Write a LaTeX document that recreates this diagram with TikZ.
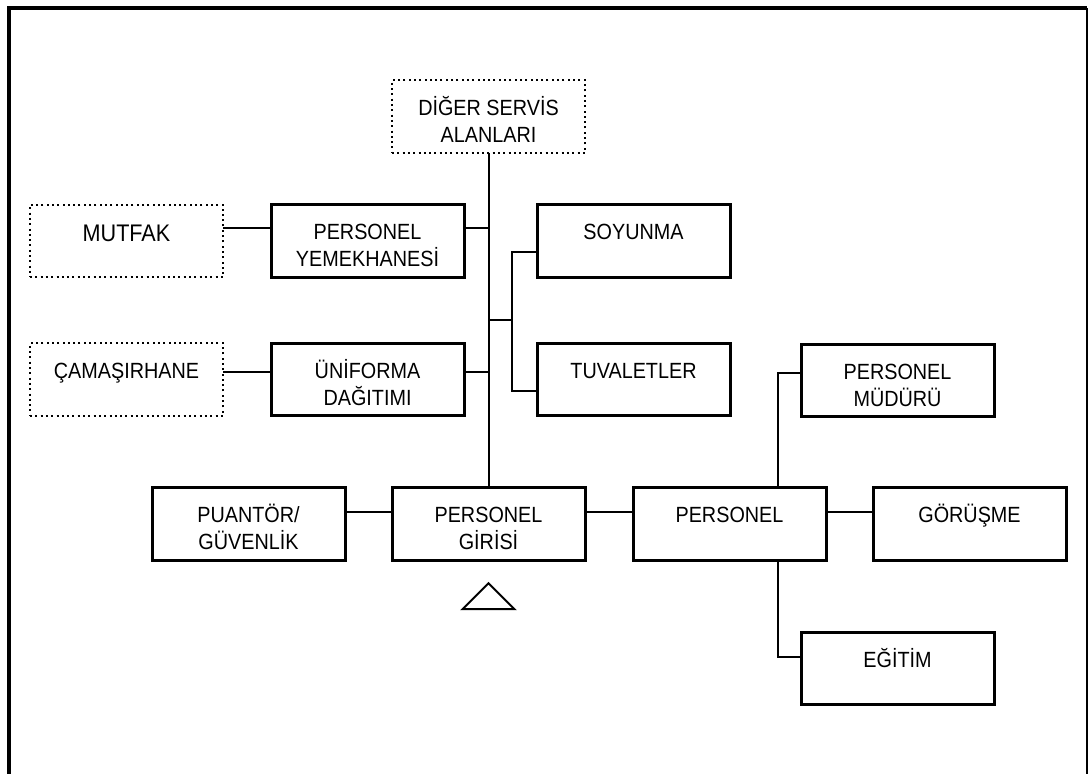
\documentclass[tikz,border=0pt]{standalone}
\usepackage{fontspec}
\setmainfont{Liberation Sans}[FakeStretch=0.9]
\usepackage{tikz}
\usetikzlibrary{positioning, calc}

\begin{document}
\begin{tikzpicture}[
    x=0.5pt, y=-0.5pt,
    node distance=24pt,
    room/.style={rectangle, draw=black, line width=1.5pt, minimum width=96.5pt, minimum height=36.25pt, inner sep=0pt, outer sep=0pt, align=center, text height=17.5pt, text depth=18.75pt, font=\fontsize{11}{13.5}\selectfont},
    twoline/.style={text height=31pt, text depth=5.25pt},
    outer/.style={room, line width=1pt, dash pattern=on 1pt off 1.65pt},
    link/.style={line width=1pt, black}
]
    \useasboundingbox (0,0) rectangle (1088,774);
    \draw[line width=2pt] (8.5,790) -- (8.5,8.5) -- (1087,8.5);
    \draw[line width=0.6pt] (1087,8.5) -- (1087,790);

    \node[room, twoline] (giris) at (488.5,524) {PERSONEL\\GİRİSİ};
    \node[room, twoline, left=23.5pt of giris] (puantor) {PUANTÖR/\\GÜVENLİK};
    \node[room, right=24pt of giris] (personel) {PERSONEL};
    \node[room, right=23.5pt of personel] (gorusme) {GÖRÜŞME};
    \node[room, twoline, above right=35.5pt and -12.5pt of personel] (mudur) {PERSONEL\\MÜDÜRÜ};
    \node[room, below right=36pt and -12.5pt of personel] (egitim) {EĞİTİM};
    \node[room, twoline, above left=36pt and -36pt of giris] (uniforma) {ÜNİFORMA\\DAĞITIMI};
    \node[room, twoline, above=33pt of uniforma] (yemek) {PERSONEL\\YEMEKHANESİ};
    \node[outer, left=24pt of uniforma] (camasir) {ÇAMAŞIRHANE};
    \node[outer, left=24pt of yemek, font=\fontsize{12}{14}\selectfont, text height=18.5pt, text depth=17.75pt] (mutfak) {MUTFAK};
    \node[room, right=36.5pt of yemek] (soyunma) {SOYUNMA};
    \node[room, right=36.5pt of uniforma] (tuvalet) {TUVALETLER};
    \node[outer, twoline, above=167.5pt of giris] (diger) {DİĞER SERVİS\\ALANLARI};

    \coordinate (fork) at ([xshift=-12.5pt, yshift=11.5pt]tuvalet.north west);

    \draw[link] (diger) -- (giris);
    \draw[link] ([yshift=6.25pt]mutfak.east) -- ([yshift=6.25pt]yemek.west);
    \draw[link] ([yshift=6.25pt]yemek.east) -- ([yshift=6.25pt]yemek.east -| giris.north);
    \draw[link] ([yshift=3.75pt]camasir.east) -- ([yshift=3.75pt]uniforma.west);
    \draw[link] ([yshift=3.75pt]uniforma.east) -- ([yshift=3.75pt]uniforma.east -| giris.north);
    \draw[link] ([yshift=-5.75pt]soyunma.west) -- ++(-12.5pt,0) |- ([yshift=-5.75pt]tuvalet.west);
    \draw[link] (fork -| giris.north) -- (fork);
    \draw[link] ([yshift=6pt]puantor.east) -- ([yshift=6pt]giris.west);
    \draw[link] ([yshift=6pt]giris.east) -- ([yshift=6pt]personel.west);
    \draw[link] ([yshift=6pt]personel.east) -- ([yshift=6pt]gorusme.west);
    \draw[link] ([xshift=24pt]personel.north) |- ([yshift=3.75pt]mudur.west);
    \draw[link] ([xshift=24pt]personel.south) |- ([yshift=5.5pt]egitim.west);

    \draw[link] ([yshift=-11.5pt]giris.south) -- ++(-13pt,-13pt) -- ++(26pt,0) -- cycle;
\end{tikzpicture}
\end{document}
